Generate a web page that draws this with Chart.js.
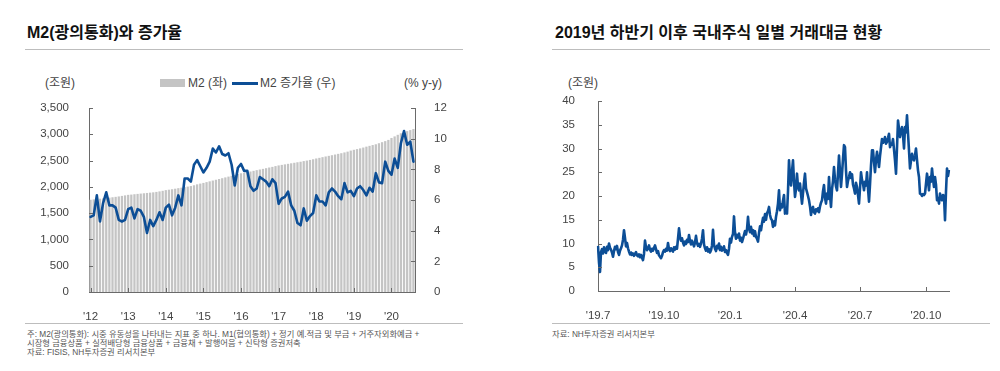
<!DOCTYPE html>
<html lang="ko">
<head>
<meta charset="utf-8">
<title>M2와 증가율 / 일별 거래대금</title>
<script src="https://cdn.jsdelivr.net/npm/chart.js@4.4.1/dist/chart.umd.min.js"></script>
<style>
  html, body { margin: 0; padding: 0; background: #fff; }
  body { width: 1000px; height: 371px; position: relative; overflow: hidden;
         font-family: 'Liberation Sans', Arial, 'Noto Sans CJK KR', sans-serif; color: #333; }
  .abs { position: absolute; white-space: nowrap; }
  .title { font-size: 16px; font-weight: bold; color: #111; line-height: 20px; top: 23px; }
  .rule { position: absolute; height: 1px; background: #bdbdbd; }
  .unit { font-size: 12px; line-height: 16px; top: 75px; color: #444; }
  .note { font-size: 8.3px; line-height: 9.3px; color: #555; }
  canvas { position: absolute; }
</style>
</head>
<body>

<!-- 왼쪽: M2 -->
<div class="abs title" style="left:27px">M2(광의통화)와 증가율</div>
<div class="rule" style="left:25px; width:438px; top:49px"></div>
<div class="abs unit" style="left:45px">(조원)</div>
<div class="abs" style="left:160px; top:79px; width:25px; height:8px; background:#c4c4c4"></div>
<div class="abs unit" style="left:188px">M2 (좌)</div>
<div class="abs" style="left:232px; top:82px; width:26px; height:3px; background:#0c4e96"></div>
<div class="abs unit" style="left:260px">M2 증가율 (우)</div>
<div class="abs unit" style="left:404px">(% y-y)</div>
<canvas id="chartM2" width="470" height="225" style="left:0; top:95px"></canvas>
<div class="rule" style="left:25px; width:438px; top:323px"></div>
<div class="abs note" style="left:27px; top:330px">주: M2(광의통화): 시중 유동성을 나타내는 지표 중 하나. M1(협의통화) + 정기 예.적금 및 부금 + 거주자외화예금 +</div>
<div class="abs note" style="left:27px; top:339px">시장형 금융상품 + 실적배당형 금융상품 + 금융채 + 발행어음 + 신탁형 증권저축</div>
<div class="abs note" style="left:27px; top:348px">자료: FISIS, NH투자증권 리서치본부</div>

<!-- 오른쪽: 거래대금 -->
<div class="abs title" style="left:555px">2019년 하반기 이후 국내주식 일별 거래대금 현황</div>
<div class="rule" style="left:552px; width:438px; top:49px"></div>
<div class="abs unit" style="left:568px">(조원)</div>
<canvas id="chartTrade" width="462" height="230" style="left:500px; top:90px"></canvas>
<div class="rule" style="left:552px; width:438px; top:323px"></div>
<div class="abs note" style="left:552px; top:330px">자료: NH투자증권 리서치본부</div>

<script>
// ── Data ─────────────────────────────────────────────
// M2 잔액 (조원), 2012.1 ~ 2020.8 월별
const m2Balance = [
  1755, 1762, 1768, 1775, 1782, 1788, 1795, 1802, 1810, 1818, 1828, 1838,
  1848, 1853, 1860, 1866, 1872, 1878, 1884, 1890, 1896, 1904, 1914, 1925,
  1938, 1946, 1955, 1965, 1975, 1985, 1995, 2005, 2015, 2030, 2048, 2062,
  2075, 2090, 2105, 2120, 2135, 2150, 2165, 2180, 2195, 2210, 2225, 2245,
  2258, 2268, 2280, 2292, 2305, 2318, 2330, 2342, 2355, 2368, 2380, 2395,
  2408, 2418, 2428, 2438, 2448, 2458, 2468, 2478, 2490, 2500, 2512, 2525,
  2540, 2552, 2565, 2578, 2590, 2602, 2615, 2628, 2640, 2655, 2670, 2690,
  2705, 2718, 2732, 2748, 2765, 2780, 2795, 2810, 2830, 2850, 2870, 2893,
  2930, 2960, 2990, 3020, 3040, 3060, 3080, 3100
];
// M2 증가율 (% y-y)
const m2Growth = [
  4.9, 5.0, 6.3, 4.6, 5.8, 6.5, 5.65, 5.65, 5.5, 4.7, 4.6, 4.7,
  5.4, 5.5, 4.8, 5.4, 5.3, 4.9, 3.85, 4.7, 4.3, 4.7, 5.2, 4.7,
  5.5, 5.7, 5.0, 5.5, 6.3, 5.65, 7.4, 7.4, 7.2, 8.3, 8.6, 8.2,
  7.8, 8.1, 8.5, 9.35, 9.1, 9.5, 9.0, 8.9, 9.05, 8.3, 6.95, 8.1,
  8.35, 7.9, 7.9, 6.9, 6.6, 6.75, 7.5, 7.35, 7.2, 6.9, 7.35, 7.1,
  5.75, 6.1, 6.2, 6.55, 5.65, 5.3, 4.5, 4.35, 5.45, 4.65, 4.95, 5.15,
  6.3, 5.9, 5.9, 5.65, 6.5, 6.75, 6.55, 6.25, 6.05, 7.1, 6.5, 6.6,
  6.25, 6.75, 6.9, 6.65, 6.3, 6.8, 6.55, 7.75, 7.15, 7.1, 8.5, 7.9,
  7.65, 8.7, 8.1, 9.7, 10.5, 9.6, 9.8, 8.5
];
const m2Start = [2012, 1];

// 일별 거래대금 (조원), 2019.7.1 ~ (평일 기준)
const tradeValue = [
  9.5, 6.0, 4.0, 8.2, 8.8, 7.9, 9.2, 8.4, 8.0, 9.3,
  8.6, 10.0, 9.1, 8.7, 8.1, 7.2, 8.4, 9.3, 8.8, 9.5,
  8.2, 7.6, 8.5, 9.0, 9.6, 10.8, 12.8, 11.2, 9.4, 10.1,
  9.0, 8.3, 7.7, 8.1, 7.6, 7.9, 7.4, 7.8, 8.2, 7.5,
  7.3, 7.7, 7.1, 7.6, 7.0, 6.5, 7.8, 10.6, 9.2, 8.6,
  9.0, 9.6, 8.7, 8.3, 8.9, 8.5, 9.1, 9.6, 8.8, 8.0,
  8.4, 7.5, 7.2, 6.9, 7.4, 8.2, 8.6, 8.3, 8.9, 8.5,
  10.1, 8.8, 8.4, 9.0, 8.6, 8.3, 9.2, 8.7, 9.3, 8.9,
  11.0, 13.2, 11.4, 10.6, 11.1, 10.2, 9.6, 10.4, 9.9, 10.8,
  10.3, 11.8, 10.5, 9.8, 10.6, 10.0, 9.4, 10.2, 11.6, 10.1,
  9.5, 9.9, 9.3, 10.0, 11.0, 12.8, 9.8, 9.0, 8.5, 9.2,
  8.3, 8.8, 8.1, 8.6, 9.6, 12.9, 9.7, 8.9, 8.4, 9.5,
  9.0, 10.0, 8.6, 9.3, 8.5, 8.8, 9.4, 8.2, 8.6, 8.0,
  7.6, 8.9, 11.0, 10.2, 11.4, 12.0, 15.7, 12.3, 11.0, 11.8,
  11.3, 12.1, 10.6, 11.2, 10.3, 11.0, 11.8, 12.6, 11.9, 13.0,
  15.6, 13.2, 12.4, 13.5, 12.1, 12.8, 11.6, 12.6, 11.4, 11.0,
  10.4, 12.2, 13.6, 12.8, 14.2, 15.4, 14.6, 16.2, 15.0, 16.4,
  16.8, 17.7, 16.0, 15.2, 14.9, 13.5, 14.6, 13.8, 15.6, 16.8,
  18.4, 21.2, 17.0, 18.2, 17.6, 19.0, 20.2, 16.3, 17.2, 16.3,
  21.0, 27.5, 24.0, 22.2, 25.2, 27.5, 23.0, 19.8, 21.5, 24.7,
  22.0, 21.2, 22.6, 20.4, 18.4, 20.6, 22.8, 24.7, 21.6, 20.8,
  20.0, 19.1, 17.8, 16.0, 17.4, 17.7, 16.6, 16.3, 17.2, 16.8,
  17.4, 16.6, 17.8, 18.6, 19.1, 21.0, 22.3, 19.6, 18.4, 20.5,
  19.4, 24.0, 20.2, 17.7, 21.4, 23.2, 26.1, 23.5, 22.0, 21.2,
  24.8, 28.5, 25.2, 21.9, 24.6, 27.8, 30.7, 30.3, 25.4, 21.9,
  23.2, 24.0, 25.0, 23.8, 24.6, 22.4, 21.6, 20.5, 22.8, 21.9,
  20.2, 18.4, 21.6, 25.0, 23.4, 22.6, 21.2, 23.0, 22.2, 25.0,
  21.6, 18.8, 22.4, 26.4, 29.6, 29.6, 27.2, 25.0, 27.6, 29.3,
  27.8, 26.1, 28.4, 30.2, 32.0, 31.2, 31.6, 32.4, 31.0, 31.4,
  32.2, 33.1, 30.3, 31.0, 30.8, 32.0, 29.8, 27.5, 24.7, 30.2,
  35.9, 34.2, 32.4, 33.6, 34.5, 32.8, 30.0, 34.5, 33.4, 37.0,
  33.2, 29.6, 25.8, 27.4, 28.9, 27.8, 27.5, 28.6, 30.0, 27.6,
  25.4, 24.0, 20.5, 20.4, 20.0, 20.4, 20.2, 20.5, 22.6, 24.7,
  23.2, 21.2, 24.0, 23.0, 25.8, 23.6, 21.9, 24.0, 22.4, 19.1,
  19.6, 18.4, 20.5, 19.6, 19.1, 20.2, 20.0, 14.9, 21.0, 25.8,
  24.2, 25.5
];
const tradeStart = '2019-07-01';

const m2Ticks = { min: 0, max: 3500, step: 500 };
const growthTicks = { min: 0, max: 12, step: 2 };
const tradeTicks = { min: 0, max: 40, step: 5 };
const quarterMonths = [1, 4, 7, 10];

// ── Labels ───────────────────────────────────────────
const months = m2Balance.map((_, i) => {
  const t = m2Start[0] * 12 + (m2Start[1] - 1) + i;
  return Math.floor(t / 12) + '-' + String(t % 12 + 1).padStart(2, '0');
});

const days = [];
for (let d = new Date(tradeStart + 'T00:00:00Z'); days.length < tradeValue.length; d.setUTCDate(d.getUTCDate() + 1)) {
  const wd = d.getUTCDay();
  if (wd !== 0 && wd !== 6) days.push(d.toISOString().slice(0, 10));
}

// ── Style ────────────────────────────────────────────
const navy = '#0c4e96';
const barGray = '#c4c4c4';
const axisColor = '#6a6a6a';
const textColor = '#444';

Chart.defaults.font.family = "'Liberation Sans', Arial, 'Noto Sans CJK KR', sans-serif";
Chart.defaults.font.size = 11.5;
Chart.defaults.color = textColor;

// 눈금을 축 안쪽으로 그림
const innerTicks = {
  id: 'innerTicks',
  afterDatasetsDraw(chart) {
    const ctx = chart.ctx, area = chart.chartArea;
    ctx.save();
    ctx.strokeStyle = axisColor;
    ctx.lineWidth = 1;
    Object.values(chart.scales).forEach(scale => {
      scale.ticks.forEach((t, i) => {
        if (t.label === null || t.label === undefined || t.label === '') return;
        const p = Math.round(scale.getPixelForTick(i)) + 0.5;
        ctx.beginPath();
        if (scale.axis === 'x') {
          ctx.moveTo(p, area.bottom); ctx.lineTo(p, area.bottom - 4);
        } else if (scale.position === 'left') {
          ctx.moveTo(area.left, p); ctx.lineTo(area.left + 4, p);
        } else {
          ctx.moveTo(area.right, p); ctx.lineTo(area.right - 4, p);
        }
        ctx.stroke();
      });
    });
    ctx.restore();
  }
};

// 축 크기를 고정하고 라벨 여백이 레이아웃을 밀지 않게 함
function fixWidth(w) {
  return s => { s.width = w; s.paddingTop = 0; s.paddingBottom = 0; };
}
function fixHeight(h) {
  return s => { s.height = h; s.paddingLeft = 0; s.paddingRight = 0; };
}

// ── Chart 1: M2 ──────────────────────────────────────
new Chart(document.getElementById('chartM2'), {
  type: 'bar',
  data: {
    labels: months,
    datasets: [
      {
        type: 'line', label: 'M2 증가율 (우)', data: m2Growth, yAxisID: 'y2', order: 0,
        borderColor: navy, borderWidth: 2.6, pointRadius: 0, tension: 0,
        borderJoinStyle: 'round', borderCapStyle: 'round'
      },
      {
        type: 'bar', label: 'M2 (좌)', data: m2Balance, yAxisID: 'y', order: 1,
        backgroundColor: barGray, barPercentage: 0.72, categoryPercentage: 1
      }
    ]
  },
  options: {
    responsive: false, animation: false, devicePixelRatio: 1,
    layout: { padding: { top: 13, right: 0, bottom: 0, left: 0 } },
    plugins: { legend: { display: false }, tooltip: { enabled: false } },
    scales: {
      x: {
        grid: { display: false }, border: { display: true, color: axisColor },
        ticks: {
          autoSkip: false, maxRotation: 0, padding: 10,
          callback: (v, i) => months[i].endsWith('-01') ? "'" + months[i].slice(2, 4) : null
        },
        afterFit: fixHeight(28)
      },
      y: {
        position: 'left', min: m2Ticks.min, max: m2Ticks.max,
        grid: { display: false }, border: { display: true, color: axisColor },
        ticks: { stepSize: m2Ticks.step, padding: 12 },
        afterFit: fixWidth(89)
      },
      y2: {
        position: 'right', min: growthTicks.min, max: growthTicks.max,
        grid: { display: false }, border: { display: true, color: axisColor },
        ticks: { stepSize: growthTicks.step, padding: 11 },
        afterFit: fixWidth(55)
      }
    }
  },
  plugins: [innerTicks]
});

// ── Chart 2: 일별 거래대금 ───────────────────────────
new Chart(document.getElementById('chartTrade'), {
  type: 'line',
  data: {
    labels: days,
    datasets: [{
      label: '거래대금', data: tradeValue,
      borderColor: navy, borderWidth: 2.6, pointRadius: 0, tension: 0,
      borderJoinStyle: 'round'
    }]
  },
  options: {
    responsive: false, animation: false, devicePixelRatio: 1,
    layout: { padding: { top: 11, right: 13, bottom: 0, left: 0 } },
    plugins: { legend: { display: false }, tooltip: { enabled: false } },
    scales: {
      x: {
        grid: { display: false }, border: { display: true, color: axisColor },
        ticks: {
          autoSkip: false, maxRotation: 0, padding: 10,
          callback: (v, i) => {
            const cur = days[i], m = +cur.slice(5, 7);
            const first = i === 0 || days[i - 1].slice(5, 7) !== cur.slice(5, 7);
            return quarterMonths.includes(m) && first ? "'" + cur.slice(2, 4) + '.' + m : null;
          }
        },
        afterFit: fixHeight(29)
      },
      y: {
        min: tradeTicks.min, max: tradeTicks.max,
        grid: { display: false }, border: { display: true, color: axisColor },
        ticks: { stepSize: tradeTicks.step, padding: 15 },
        afterFit: fixWidth(98)
      }
    }
  },
  plugins: [innerTicks]
});
</script>
</body>
</html>
